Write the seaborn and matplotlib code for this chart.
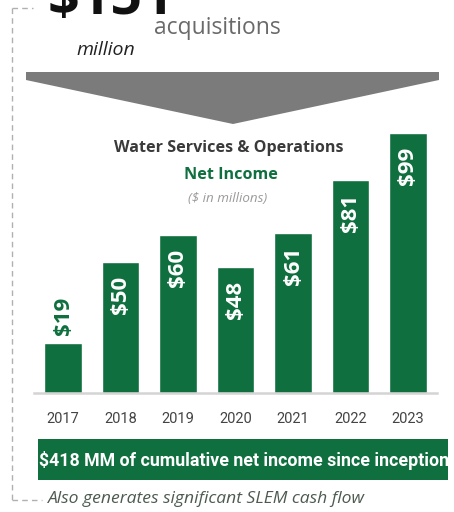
import matplotlib
matplotlib.use("Agg")
import matplotlib.pyplot as plt
from matplotlib.patches import Polygon, Rectangle
from matplotlib.lines import Line2D
import seaborn as sns
import pandas as pd

years = ["2017", "2018", "2019", "2020", "2021", "2022", "2023"]
net_income = [19, 50, 60, 48, 61, 81, 99]
value_labels = ["$19", "$50", "$60", "$48", "$61", "$81", "$99"]

GREEN = "#0f6f3e"
W, H = 454, 512

sns.set_theme(style="white")
plt.rcParams["font.family"] = ["Open Sans", "DejaVu Sans"]

fig = plt.figure(figsize=(W / 100, H / 100), dpi=100)
fig.patch.set_facecolor("white")


def fx(x):
    return x / W


def fy(y):
    return 1 - y / H


# background layer for shapes and lines in pixel coordinates
bg = fig.add_axes([0, 0, 1, 1])
bg.set_xlim(0, W)
bg.set_ylim(H, 0)
bg.axis("off")

# dashed bracket on the left
dash = dict(color="#b0b0b0", lw=1, ls=(0, (4, 3)))
bg.add_line(Line2D([12, 12], [8, 500], **dash))
bg.add_line(Line2D([12, 33], [8, 8], **dash))
bg.add_line(Line2D([12, 42], [500, 500], **dash))

# downward arrow
bg.add_patch(Polygon([[26, 72], [439, 72], [439, 80], [233, 124], [26, 80]],
                     closed=True, facecolor="#7b7b7b", edgecolor="none"))

# green summary banner
bg.add_patch(Rectangle((38, 439), 410, 41, facecolor=GREEN, edgecolor="none"))

# header texts
fig.text(fx(48), fy(14), "$151", fontsize=40, fontweight="bold", color="#111111",
         ha="left", va="baseline")
fig.text(fx(135), fy(50), "million", fontsize=14, fontstyle="italic", color="#222222",
         ha="right", va="center")
fig.text(fx(154), fy(28), "acquisitions", fontsize=16.5, color="#6a6a6a",
         ha="left", va="center")

# chart titles
fig.text(fx(229), fy(148), "Water Services & Operations", fontsize=11.6,
         fontweight="bold", color="#3a3a3a", ha="center", va="center")
fig.text(fx(231), fy(175), "Net Income", fontsize=11.6, fontweight="bold",
         color=GREEN, ha="center", va="center")
fig.text(fx(228), fy(198), "($ in millions)", fontsize=9.6, fontstyle="italic",
         color="#9a9a9a", ha="center", va="center")

# bars
px_per_unit = 2.63
top_val = 104
base_y = 393
ax_h = top_val * px_per_unit
ax = fig.add_axes([fx(34.25), fy(base_y), 402.5 / W, ax_h / H])
df = pd.DataFrame({"year": years, "value": net_income})
sns.barplot(data=df, x="year", y="value", color=GREEN, saturation=1,
            width=0.66, ax=ax)
ax.set_ylim(0, top_val)
ax.set_xlim(-0.5, len(years) - 0.5)
ax.set_facecolor("none")
for s in ["top", "right", "left"]:
    ax.spines[s].set_visible(False)
ax.spines["bottom"].set_color("#d4d4d4")
ax.spines["bottom"].set_linewidth(1.8)
ax.set_yticks([])
ax.set_xlabel("")
ax.set_ylabel("")
ax.tick_params(axis="x", length=0, pad=14, labelsize=10.5, labelcolor="#444444")
for lab in ax.get_xticklabels():
    lab.set_fontfamily(["Roboto", "DejaVu Sans"])

# value labels, rotated; short bars get the label above
off = 5.3
for i, (v, t) in enumerate(zip(net_income, value_labels)):
    if v < 30:
        ax.text(i, v + 3, t, rotation=90, ha="center", va="bottom",
                fontsize=16, fontweight="bold", color=GREEN)
    else:
        ax.text(i, v - off, t, rotation=90, ha="center", va="top",
                fontsize=16, fontweight="bold", color="white")

# banner and footer texts
fig.text(fx(244), fy(460), "$418 MM of cumulative net income since inception",
         fontsize=12.8, fontweight="bold", color="white", ha="center", va="center",
         family=["Roboto", "DejaVu Sans"])
fig.text(fx(48), fy(499), "Also generates significant SLEM cash flow",
         fontsize=12.6, fontstyle="italic", color="#4d5a50", ha="left", va="center")

fig.savefig("out.png", dpi=100, facecolor="white")
